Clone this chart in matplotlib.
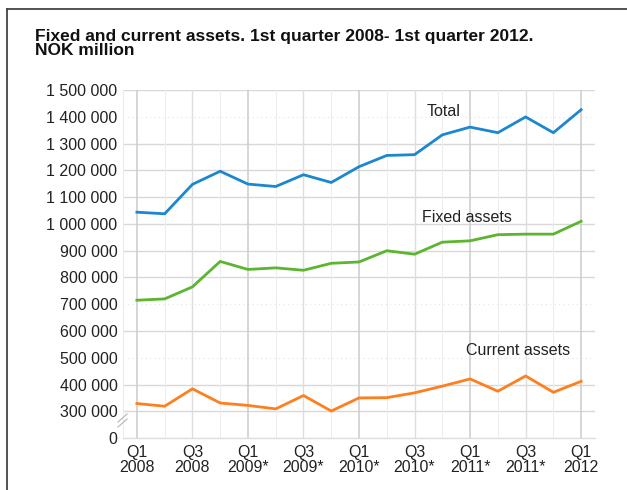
import numpy as np
import matplotlib
matplotlib.use('Agg')
import matplotlib.pyplot as plt

plt.rcParams['font.family'] = ['Liberation Sans', 'DejaVu Sans']

# Quarterly data, NOK million
quarters = ['Q1\n2008', 'Q2\n2008', 'Q3\n2008', 'Q4\n2008',
            'Q1\n2009*', 'Q2\n2009*', 'Q3\n2009*', 'Q4\n2009*',
            'Q1\n2010*', 'Q2\n2010*', 'Q3\n2010*', 'Q4\n2010*',
            'Q1\n2011*', 'Q2\n2011*', 'Q3\n2011*', 'Q4\n2011*',
            'Q1\n2012']
total = [1044000, 1038000, 1148000, 1197000, 1149000, 1140000, 1184000, 1155000,
         1214000, 1256000, 1259000, 1333000, 1362000, 1341000, 1400000, 1341000, 1427000]
fixed_assets = [715000, 720000, 765000, 860000, 830000, 836000, 827000, 853000,
                858000, 900000, 887000, 932000, 937000, 960000, 962000, 962000, 1010000]
current_assets = [329000, 319000, 384000, 331000, 322000, 309000, 359000, 301000,
                  350000, 351000, 369000, 394000, 421000, 375000, 432000, 371000, 412000]

# axis is broken below 300 000: the "0" label sits one step below
y_ticks = [200000, 300000, 400000, 500000, 600000, 700000, 800000, 900000,
           1000000, 1100000, 1200000, 1300000, 1400000, 1500000]
y_labels = ['0', '300 000', '400 000', '500 000', '600 000', '700 000', '800 000',
            '900 000', '1 000 000', '1 100 000', '1 200 000', '1 300 000',
            '1 400 000', '1 500 000']
dotted_rows = [500000, 700000, 1400000]

fig = plt.figure(figsize=(6.27, 4.9), dpi=100)
ax = fig.add_axes([0.1962, 0.106, 0.7528, 0.71])

x = np.arange(len(quarters))

# gridlines
for yv in y_ticks[1:]:
    if yv in dotted_rows:
        ax.axhline(yv, color='#e4e4e4', lw=0.8, ls=(0, (1, 3)), zorder=0)
    else:
        ax.axhline(yv, color='#d8d8d8', lw=1.0, zorder=0)
for i in x:
    if i % 4 == 0:
        ax.axvline(i, color='#cccccc', lw=1.1, zorder=0)
    elif i % 2 == 0:
        ax.axvline(i, color='#dedede', lw=1.0, zorder=0)
    else:
        ax.axvline(i, color='#ededed', lw=0.8, zorder=0)

ax.plot(x, total, color='#1b87cf', lw=2.0, solid_joinstyle='round')
ax.plot(x, fixed_assets, color='#5bb52e', lw=2.0, solid_joinstyle='round')
ax.plot(x, current_assets, color='#ff7f1f', lw=2.0, solid_joinstyle='round')

ax.text(11.03, 1421000, 'Total', ha='center', va='center', fontsize=11.5, color='#222222')
ax.text(11.9, 1026000, 'Fixed assets', ha='center', va='center', fontsize=11.5, color='#222222')
ax.text(13.73, 529000, 'Current assets', ha='center', va='center', fontsize=11.5, color='#222222')

ax.set_xlim(-0.5, 16.5)
ax.set_ylim(200000, 1500000)
ax.set_yticks(y_ticks)
ax.set_yticklabels(y_labels)
ax.set_xticks(x[::2])
ax.set_xticklabels(quarters[::2], linespacing=1.0)
ax.tick_params(axis='both', length=0, labelsize=11.5, labelcolor='#222222')
ax.tick_params(axis='y', pad=4)
ax.tick_params(axis='x', pad=5)

for s in ['top', 'right']:
    ax.spines[s].set_visible(False)
ax.spines['left'].set_color('#ececec')
ax.spines['bottom'].set_color('#dcdcdc')
ax.spines['bottom'].set_linewidth(1.0)

# axis break marks
for dy in [0, 5]:
    fig.add_artist(plt.Line2D([118 / 627, 127 / 627],
                              [1 - (427 - dy) / 490, 1 - (419 - dy) / 490],
                              color='#bbbbbb', lw=0.9))

# frame
fig.add_artist(plt.Line2D([6.5 / 627, 6.5 / 627], [0, 1 - 9 / 490], color='#444444', lw=1.3))
fig.add_artist(plt.Line2D([6.5 / 627, 1], [1 - 9 / 490, 1 - 9 / 490], color='#444444', lw=1.3))

fig.text(35 / 627, 1 - 29 / 490,
         'Fixed and current assets. 1st quarter 2008- 1st quarter 2012.\nNOK million',
         ha='left', va='top', fontsize=12.5, fontweight='bold', color='#111111',
         linespacing=0.92)

fig.savefig('out.png', dpi=100)
